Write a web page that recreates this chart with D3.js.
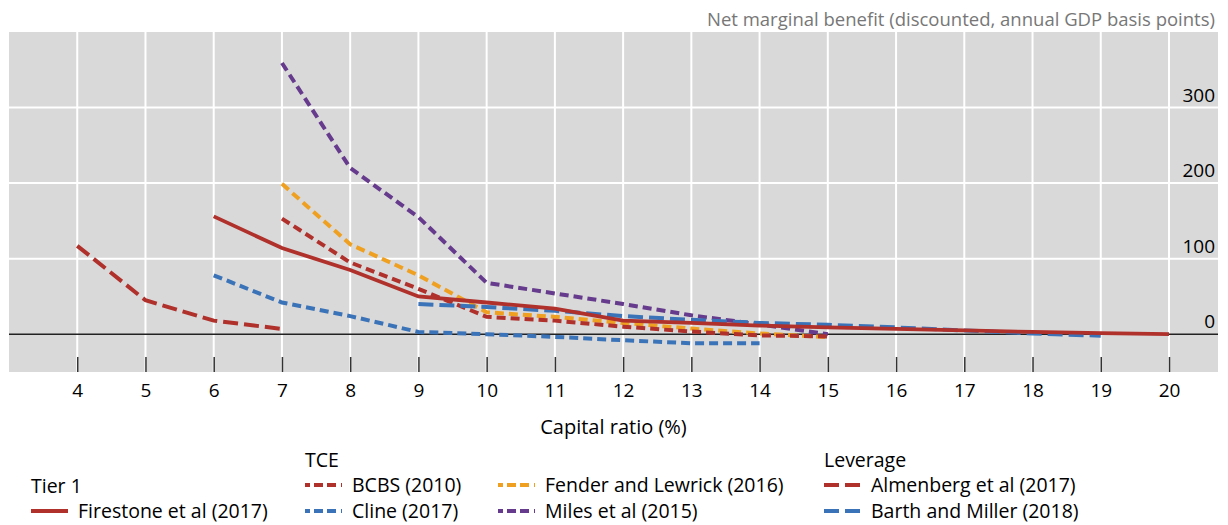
<!DOCTYPE html>
<html>
<head>
<meta charset="utf-8">
<script src="https://cdn.jsdelivr.net/npm/d3@7"></script>
<style>
  body { margin: 0; background: #fff; }
  svg { font-family: "Open Sans", sans-serif; }
  .tick text { fill: #000; }
</style>
</head>
<body>
<div id="chart"></div>
<script>
// capital ratio (%) and net marginal benefit
var firestoneX = [6, 7, 8, 9, 10, 11, 12, 13, 14, 15, 16, 17, 18, 19, 20]
var firestoneY = [156, 114, 85, 50, 42, 34, 18, 15, 11.5, 9, 7, 5, 3, 1.5, 0]

var bcbsX = [7, 8, 9, 10, 11, 12, 13, 14, 15]
var bcbsY = [153, 95, 60, 23, 18, 10, 3.5, -1.5, -3]

var clineX = [6, 7, 8, 9, 10, 11, 12, 13, 14]
var clineY = [78, 42, 24, 3, 0, -3.5, -8, -12, -12]

var fenderX = [7, 8, 9, 10, 11, 12, 13, 14, 15]
var fenderY = [199, 119, 78, 29, 23, 15, 7.5, 1, -4]

var milesX = [7, 8, 9, 10, 11, 12, 13, 14, 15]
var milesY = [359, 220, 155, 68, 54, 40, 25, 13, 0]

var almenbergX = [4, 5, 6, 7]
var almenbergY = [117, 45, 18, 7]

var barthX = [9, 10, 11, 12, 13, 14, 15, 16, 17, 18, 19]
var barthY = [40, 36, 31, 24, 19, 15, 12.5, 9, 5, 1, -2]

var xTicks = [4, 5, 6, 7, 8, 9, 10, 11, 12, 13, 14, 15, 16, 17, 18, 19, 20]
var yTicks = [0, 100, 200, 300]

var red = '#b0302c', blue = '#3b73b9', orange = '#f0a020', purple = '#663a8c'
var shortDash = '9,5', longDash = '15,6'

var series = [
  {name: 'Miles et al (2015)',        xs: milesX,     ys: milesY,     color: purple, dash: shortDash, w: 4},
  {name: 'Fender and Lewrick (2016)', xs: fenderX,    ys: fenderY,    color: orange, dash: shortDash, w: 4},
  {name: 'BCBS (2010)',               xs: bcbsX,      ys: bcbsY,      color: red,    dash: shortDash, w: 4},
  {name: 'Cline (2017)',              xs: clineX,     ys: clineY,     color: blue,   dash: shortDash, w: 4},
  {name: 'Barth and Miller (2018)',   xs: barthX,     ys: barthY,     color: blue,   dash: longDash,  w: 4},
  {name: 'Almenberg et al (2017)',    xs: almenbergX, ys: almenbergY, color: red,    dash: longDash,  w: 4},
  {name: 'Firestone et al (2017)',    xs: firestoneX, ys: firestoneY, color: red,    dash: null,      w: 3.8}
]

var legendGroups = [
  {title: 'Tier 1',   x: 31,  y: 486, items: ['Firestone et al (2017)']},
  {title: 'TCE',      x: 305, y: 460, items: ['BCBS (2010)', 'Fender and Lewrick (2016)', 'Cline (2017)', 'Miles et al (2015)']},
  {title: 'Leverage', x: 824, y: 460, items: ['Almenberg et al (2017)', 'Barth and Miller (2018)']}
]

var W = 1228, H = 525
var pL = 9, pR = 1218, pT = 32, pB = 372

var svg = d3.select('#chart').append('svg').attr('width', W).attr('height', H)

var x = d3.scaleLinear().domain([3, 20]).range([pL, 1169])
var y = d3.scaleLinear().domain([-50, 400]).range([pB, pT])

svg.append('rect')
  .attr('x', pL).attr('y', pT)
  .attr('width', pR - pL).attr('height', pB - pT)
  .attr('fill', '#d9d9d9')

// grid
svg.append('g').selectAll('line').data(xTicks).join('line')
  .attr('x1', d => x(d)).attr('x2', d => x(d))
  .attr('y1', pT).attr('y2', pB)
  .attr('stroke', '#fff').attr('stroke-width', 2)

svg.append('g').selectAll('line').data(yTicks.filter(d => d != 0)).join('line')
  .attr('x1', pL).attr('x2', pR)
  .attr('y1', d => y(d)).attr('y2', d => y(d))
  .attr('stroke', '#fff').attr('stroke-width', 2)

// x axis: ticks point up into the plot
var xAxis = svg.append('g')
  .attr('transform', 'translate(0,' + pB + ')')
  .call(d3.axisBottom(x).tickValues(xTicks).tickFormat(d3.format('d'))
    .tickSizeInner(-15).tickSizeOuter(0).tickPadding(12))
xAxis.select('.domain').remove()
xAxis.selectAll('.tick line').attr('stroke', '#333').attr('stroke-width', 1.5)
xAxis.selectAll('text').attr('font-size', 19).attr('font-family', '"Open Sans", sans-serif')

// y axis labels on the right, sitting above the grid lines
var yAxis = svg.append('g')
  .attr('transform', 'translate(1215,0)')
  .call(d3.axisLeft(y).tickValues(yTicks).tickSize(0).tickPadding(0))
yAxis.select('.domain').remove()
yAxis.selectAll('text').attr('font-size', 19).attr('dy', '-0.34em')
  .attr('font-family', '"Open Sans", sans-serif')

// zero line
svg.append('line')
  .attr('x1', pL).attr('x2', pR)
  .attr('y1', y(0)).attr('y2', y(0))
  .attr('stroke', '#222').attr('stroke-width', 1.5)

var line = d3.line().x(d => x(d[0])).y(d => y(d[1]))

svg.append('g').selectAll('path').data(series).join('path')
  .attr('d', s => line(d3.zip(s.xs, s.ys)))
  .attr('fill', 'none')
  .attr('stroke', s => s.color)
  .attr('stroke-width', s => s.w)
  .attr('stroke-dasharray', s => s.dash)

svg.append('text')
  .attr('x', 1215).attr('y', 26)
  .attr('text-anchor', 'end').attr('font-size', 18.5).attr('fill', '#777')
  .text('Net marginal benefit (discounted, annual GDP basis points)')

svg.append('text')
  .attr('x', (pL + pR) / 2).attr('y', 434)
  .attr('text-anchor', 'middle').attr('font-size', 20)
  .text('Capital ratio (%)')

// legend
var byName = {}
series.forEach(s => byName[s.name] = s)

legendGroups.forEach(function(g){
  var lg = svg.append('g')
  lg.append('text').attr('x', g.x).attr('y', g.y + 7).attr('font-size', 19.5).text(g.title)
  g.items.forEach(function(name, i){
    var s = byName[name]
    var col = g.items.length > 2 ? i % 2 : 0
    var row = g.items.length > 2 ? Math.floor(i / 2) : i
    var ix = g.x + col * 193
    var iy = g.y + 25 + row * 26
    lg.append('line')
      .attr('x1', ix).attr('x2', ix + 37)
      .attr('y1', iy).attr('y2', iy)
      .attr('stroke', s.color).attr('stroke-width', s.w)
      .attr('stroke-dasharray', s.dash ? (s.dash == shortDash ? '5,4,9,4,9' : '15,6') : null)
    lg.append('text').attr('x', ix + 47).attr('y', iy + 7).attr('font-size', 19.5).text(name)
  })
})
</script>
</body>
</html>
